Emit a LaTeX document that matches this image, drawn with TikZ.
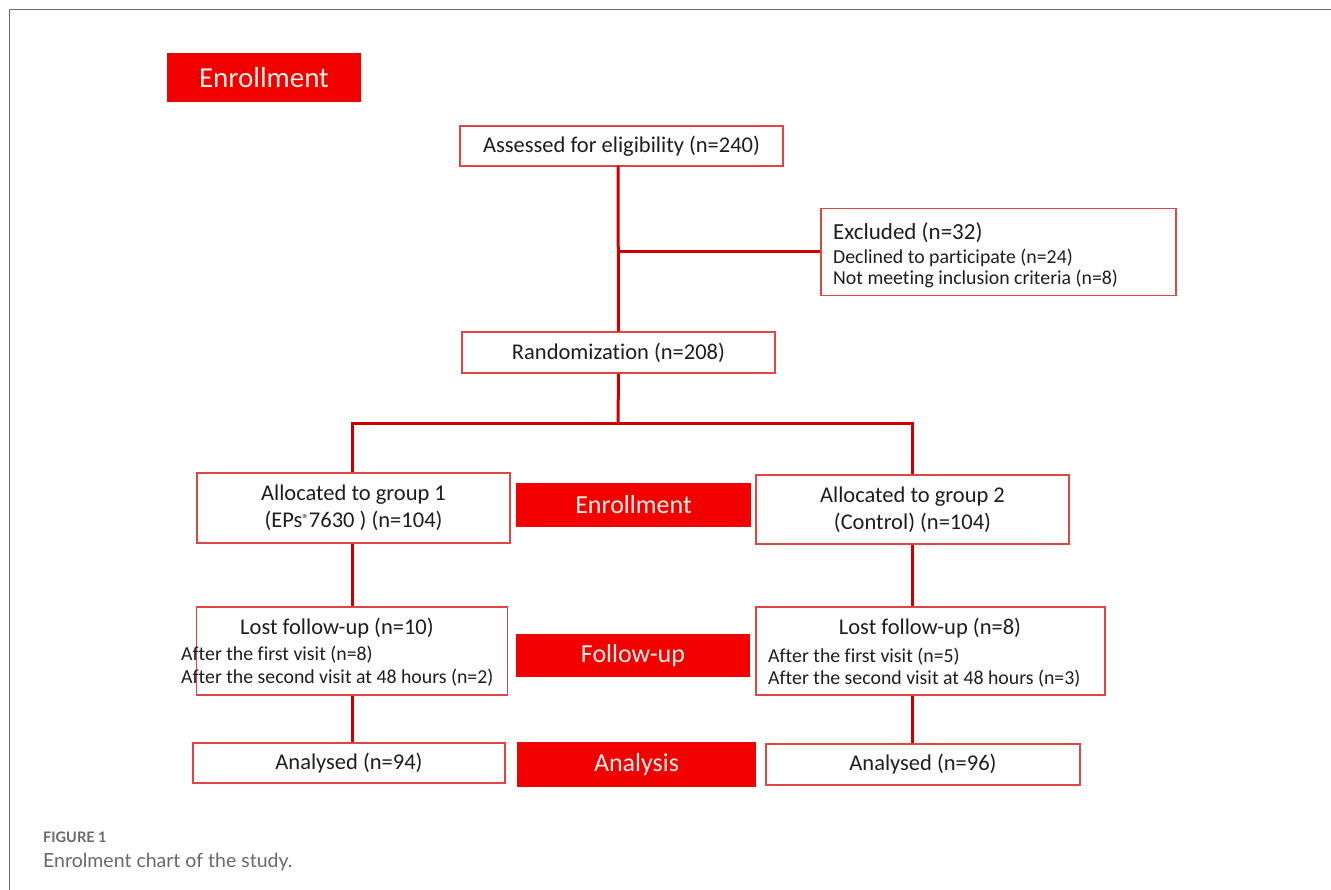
\documentclass[tikz,border=0pt]{standalone}
\usepackage{fontspec}
\setmainfont[Ligatures=NoCommon]{Carlito}
\newfontfamily\capfont{Lato}
\definecolor{boxred}{RGB}{222,70,70}
\definecolor{linered}{RGB}{205,0,0}
\definecolor{fillred}{RGB}{242,0,0}
\definecolor{pale}{RGB}{255,238,230}
\definecolor{txt}{RGB}{30,30,30}
\definecolor{capgray}{RGB}{105,105,105}
\definecolor{framegray}{RGB}{110,110,110}
\begin{document}
\begin{tikzpicture}[x=1pt,y=-1pt,
  wbox/.style={draw=boxred,line width=1.3pt,fill=white,inner sep=0pt,text=txt,align=center,
    font=\fontsize{22.5}{27}\selectfont},
  rbox/.style={fill=fillred,inner sep=0pt,text=pale,font=\fontsize{26}{28}\selectfont},
  conn/.style={draw=linered,line width=3pt},
  sub/.style={anchor=west,inner sep=0pt,text=txt,font=\fontsize{19.8}{22}\selectfont},
  ttl/.style={inner sep=0pt,text=txt,font=\fontsize{22.5}{25}\selectfont}]
\useasboundingbox (0,0) rectangle (1331,890);
\fill[white] (0,0) rectangle (1331,890);
\draw[framegray,line width=1.5pt] (9.5,890) -- (9.5,9.5) -- (1331,9.5);

% header
\node[rbox,minimum width=194pt,minimum height=49pt,font=\fontsize{29}{31}\selectfont] (hdr) at (264,77.5) {Enrollment};

% top chain
\node[wbox,minimum width=323pt,minimum height=40pt] (assess) at (621.5,146) {Assessed for eligibility (n=240)};
\node[wbox,minimum width=355pt,minimum height=87pt] (excl) at (998.5,252) {};
\node[ttl,anchor=west,font=\fontsize{23}{25}\selectfont] (ex1) at (833,233) {Excluded (n=32)};
\node[sub] (ex2) at (833,258) {Declined to participate (n=24)};
\node[sub] (ex3) at (833,278.5) {Not meeting inclusion criteria (n=8)};
\node[wbox,minimum width=313pt,minimum height=41pt] (rand) at (618.5,352.5) {Randomization (n=208)};

% groups
\node[wbox,minimum width=313pt,minimum height=70pt] (g1) at (353.5,508) {Allocated to group 1\\(EPs\raisebox{0.35ex}{\fontsize{13}{13}\selectfont ®}7630 ) (n=104)};
\node[rbox,minimum width=235pt,minimum height=44pt] (enr) at (633.5,505) {Enrollment};
\node[wbox,minimum width=313pt,minimum height=69pt] (g2) at (912.5,509.5) {Allocated to group 2\\(Control) (n=104)};

% lost follow-up
\node[wbox,minimum width=311pt,minimum height=88pt] (lost1) at (352,651) {};
\node[ttl] (l1t) at (337,628) {Lost follow-up (n=10)};
\node[sub] (l1a) at (181,655) {After the first visit (n=8)};
\node[sub] (l1b) at (181,678) {After the second visit at 48 hours (n=2)};
\node[rbox,minimum width=234pt,minimum height=43pt] (fu) at (633,655.5) {Follow-up};
\node[wbox,minimum width=349pt,minimum height=88pt] (lost2) at (930.5,651) {};
\node[ttl] (l2t) at (930,628) {Lost follow-up (n=8)};
\node[sub] (l2a) at (768,657) {After the first visit (n=5)};
\node[sub] (l2b) at (768,679) {After the second visit at 48 hours (n=3)};

% analysis
\node[wbox,minimum width=312pt,minimum height=40pt] (an1) at (349,763) {Analysed (n=94)};
\node[rbox,minimum width=239pt,minimum height=45pt] (ana) at (636.5,764.5) {Analysis};
\node[wbox,minimum width=314pt,minimum height=41pt] (an2) at (923,764.5) {Analysed (n=96)};

% connectors
\coordinate (tA) at (618,166);
\coordinate (j) at (618,424);
\coordinate (cL) at (352,0);
\coordinate (cR) at (912,0);
\draw[conn] (tA) -- (rand.north);
\draw[conn] (tA |- excl.west) -- (excl.west);
\draw[conn] (rand.south) -- (j);
\draw[conn] (cL |- g1.north) |- (j) -| (cR |- g2.north);
\draw[conn] (cL |- g1.south) -- (cL |- lost1.north);
\draw[conn] (cL |- lost1.south) -- (cL |- an1.north);
\draw[conn] (cR |- g2.south) -- (cR |- lost2.north);
\draw[conn] (cR |- lost2.south) -- (cR |- an2.north);

% caption
\node[anchor=base west,inner sep=0pt,text=capgray,font=\capfont\bfseries\fontsize{14.5}{16}\selectfont] (fig) at (43,842) {FIGURE 1};
\node[anchor=base west,inner sep=0pt,text=capgray,font=\capfont\fontsize{19.5}{21}\selectfont] (cap) at (43,867) {Enrolment chart of the study.};
\end{tikzpicture}
\end{document}
